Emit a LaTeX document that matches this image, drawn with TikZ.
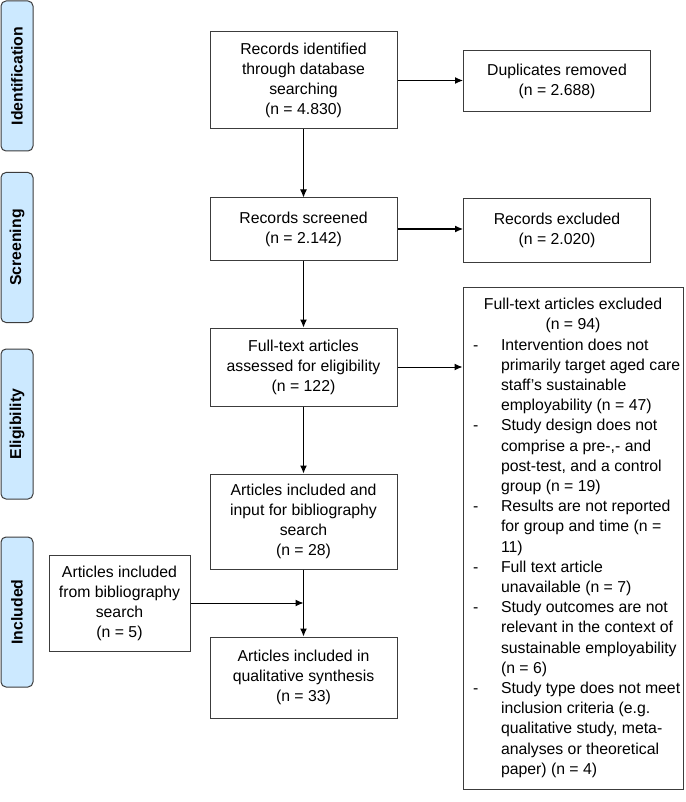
\documentclass[tikz,border=0pt]{standalone}
\usepackage{fontspec}
\setmainfont{Liberation Sans}
\usetikzlibrary{calc,arrows.meta}
\definecolor{tabblue}{RGB}{204,233,255}
\definecolor{boxline}{RGB}{60,60,60}
\newcommand{\exitem}[1]{\hspace*{10pt}\makebox[28pt][l]{-}#1}
\newcommand{\excont}[1]{\hspace*{38pt}#1}

\begin{document}
\begin{tikzpicture}[x=1pt,y=-1pt,font=\fontsize{15.8}{20}\selectfont,
    box/.style={draw=boxline,line width=1pt,align=center,inner sep=0pt},
    phase/.style={draw=boxline,fill=tabblue,rounded corners=5pt,line width=1pt,rotate=90,
      minimum width=150pt,minimum height=32pt,inner sep=0pt,font=\fontsize{15.8}{20}\selectfont\bfseries},
    flow/.style={-{Latex[length=8pt,width=7pt]},line width=1pt}]
                      \useasboundingbox (0,0) rectangle (685,802);
                      % phases
                      \node[phase] (tid) at (17,76) {Identification};
                      \node[phase] (tscr) at (17,247.5) {Screening};
                      \node[phase] (telig) at (17,424) {Eligibility};
                      \node[phase] (tincl) at (17,612) {Included};
                      % main column
                      \node[box,minimum width=187pt,minimum height=97pt] (ident) at (303.5,80.5) {Records identified\\through database\\searching\\(n = 4.830)};
                      \node[box,minimum width=187pt,minimum height=62pt] (screen) at (303.5,229) {Records screened\\(n = 2.142)};
                      \node[box,minimum width=187pt,minimum height=78pt] (full) at (303.5,367) {Full-text articles\\assessed for eligibility\\(n = 122)};
                      \node[box,minimum width=187pt,minimum height=95pt] (incl) at (303.5,521.5) {Articles included and\\input for bibliography\\search\\(n = 28)};
                      \node[box,minimum width=187pt,minimum height=81pt] (synth) at (303.5,677.5) {Articles included in\\qualitative synthesis\\(n = 33)};
                      % side boxes
                      \node[box,minimum width=187pt,minimum height=61pt] (dup) at (557,81.5) {Duplicates removed\\(n = 2.688)};
                      \node[box,minimum width=187pt,minimum height=63pt] (rexcl) at (557,230.5) {Records excluded\\(n = 2.020)};
                      \node[box,minimum width=141pt,minimum height=96pt] (bib) at (119.5,603) {Articles included\\from bibliography\\search\\(n = 5)};
                      \node[box,align=left,minimum width=220pt,minimum height=502pt,
                        font=\fontsize{15.8}{20.2}\selectfont] (fexcl) at (573,538) {%
                        \makebox[220pt]{Full-text articles excluded}\\
                        \makebox[220pt]{(n = 94)}\\
                        \exitem{Intervention does not}\\
                        \excont{primarily target aged care}\\
                        \excont{staff's sustainable}\\
                        \excont{employability (n = 47)}\\
                        \exitem{Study design does not}\\
                        \excont{comprise a pre-,- and}\\
                        \excont{post-test, and a control}\\
                        \excont{group (n = 19)}\\
                        \exitem{Results are not reported}\\
                        \excont{for group and time (n =}\\
                        \excont{11)}\\
                        \exitem{Full text article}\\
                        \excont{unavailable (n = 7)}\\
                        \exitem{Study outcomes are not}\\
                        \excont{relevant in the context of}\\
                        \excont{sustainable employability}\\
                        \excont{(n = 6)}\\
                        \exitem{Study type does not meet}\\
                        \excont{inclusion criteria (e.g.}\\
                        \excont{qualitative study, meta-}\\
                        \excont{analyses or theoretical}\\
                        \excont{paper) (n = 4)}};
                      % arrows
                      \draw[flow] (ident) -- (screen);
                      \draw[flow] (screen) -- (full);
                      \draw[flow] (full) -- (incl);
                      \draw[flow] (incl) -- (synth);
                      \draw[flow] (ident.east) -- (ident.east -| dup.west);
                      \draw[flow] (screen.east) -- (screen.east -| rexcl.west);
                      \draw[flow] (full.east) -- (full.east -| fexcl.west);
                      \draw[flow] (bib.east) -- (bib.east -| incl.south);
                  \end{tikzpicture}
\end{document}
